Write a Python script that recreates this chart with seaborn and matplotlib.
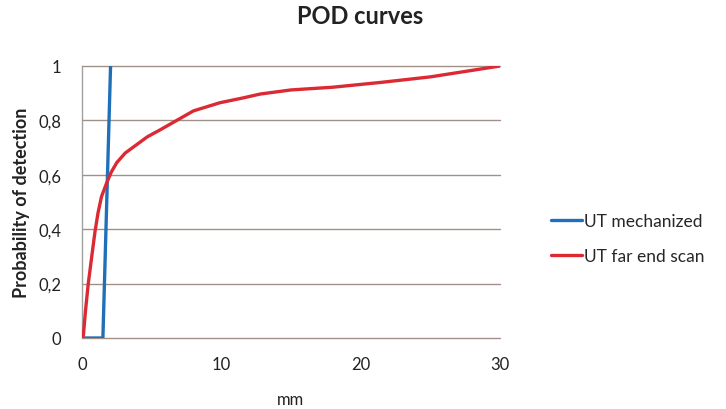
import seaborn as sns
import pandas as pd
import matplotlib.pyplot as plt
from matplotlib.ticker import FuncFormatter

# POD curve values
mech_mm = [0.0, 1.5, 2.05]
mech_pod = [0.0, 0.0, 1.0]

far_mm = [0.0, 0.1, 0.25, 0.45, 0.7, 0.93, 1.15, 1.4, 1.77, 2.1, 2.5, 3.1, 3.9, 4.7, 5.6, 6.8,
          8.0, 9.9, 11.5, 12.8, 15.0, 18.0, 21.5, 25.0, 30.0]
far_pod = [0.0, 0.01, 0.1, 0.2, 0.3, 0.39, 0.46, 0.52, 0.57, 0.61, 0.645, 0.68, 0.71, 0.74,
           0.765, 0.8, 0.835, 0.865, 0.882, 0.897, 0.912, 0.922, 0.94, 0.96, 1.0]

series_names = ['UT mechanized', 'UT far end scan']
colors = ['#1f70b8', '#dc2a34']
y_ticks = [0, 0.2, 0.4, 0.6, 0.8, 1.0]
x_ticks = [0, 10, 20, 30]

df = pd.concat([
    pd.DataFrame({'mm': mech_mm, 'pod': mech_pod, 'series': series_names[0]}),
    pd.DataFrame({'mm': far_mm, 'pod': far_pod, 'series': series_names[1]}),
], ignore_index=True)

sns.set_style('white')
plt.rcParams['font.family'] = ['Lato', 'DejaVu Sans']

fig = plt.figure(figsize=(7.26, 4.10), dpi=100)
ax = fig.add_axes([82 / 726, 71 / 410, 418 / 726, 272 / 410])

sns.lineplot(data=df, x='mm', y='pod', hue='series', palette=colors,
             sort=False, linewidth=2.4, ax=ax, zorder=3)

ax.set_xlim(0, 30)
ax.set_ylim(0, 1)
ax.set_xticks(x_ticks)
ax.set_yticks(y_ticks)
ax.yaxis.set_major_formatter(FuncFormatter(
    lambda v, p: '0' if v == 0 else ('1' if v == 1 else f'{v:.1f}'.replace('.', ','))))

grid_col = '#a09088'
for y in y_ticks:
    ax.axhline(y, color=grid_col, linewidth=1.0, zorder=1, clip_on=False)
for s in ['top', 'right', 'bottom']:
    ax.spines[s].set_visible(False)
ax.spines['left'].set_color('#a0a0a0')
ax.spines['left'].set_linewidth(1.0)

ax.tick_params(axis='y', length=6, labelsize=12, pad=9, colors=grid_col, labelcolor='#222222')
ax.tick_params(axis='x', length=0, labelsize=12, pad=13, colors='#222222')

ax.set_xlabel('mm', fontsize=12, color='#222222', labelpad=14)
ax.set_ylabel('Probability of detection', fontsize=13, fontweight='bold',
              color='#222222', labelpad=6)
fig.suptitle('POD curves', x=360 / 726, y=1 - 5 / 410, fontsize=17,
             fontweight='bold', color='#222222', va='top')

ax.legend(loc='center left', bbox_to_anchor=(1.085, 0.365), frameon=False,
          fontsize=12.5, handlelength=1.8, handletextpad=0.1, labelspacing=1.1)

fig.savefig('out.png', dpi=100)
